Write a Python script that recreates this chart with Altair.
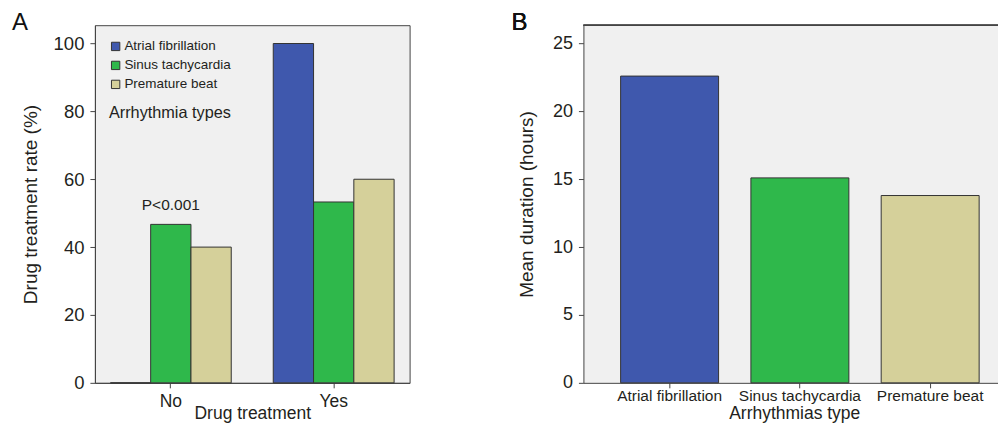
import altair as alt
import pandas as pd

# ---- data ----
treatment = ["No", "No", "No", "Yes", "Yes", "Yes"]
types_a = ["Atrial fibrillation", "Sinus tachycardia", "Premature beat",
           "Atrial fibrillation", "Sinus tachycardia", "Premature beat"]
rates = [0.0, 46.7, 40.0, 100.0, 53.3, 60.0]

types_b = ["Atrial fibrillation", "Sinus tachycardia", "Premature beat"]
durations = [22.6, 15.1, 13.8]

colors = ["#3f58ad", "#2fb84b", "#d5d09a"]

FONT = "Liberation Sans"
TXT = "#231f20"
AX = "#444444"
BG = "#f0f0f0"

dfa = pd.DataFrame({"treatment": treatment, "type": types_a, "rate": rates})
dfb = pd.DataFrame({"type": types_b, "duration": durations})
ann = pd.DataFrame({"treatment": ["No"], "rate": [51.0], "label": ["P<0.001"]})

WA, WB, H = 315, 422, 358

legend = alt.Legend(
    orient="none", legendX=14, legendY=14.5,
    title="Arrhythmia types", titleOrient="bottom", titleFontSize=16.3,
    titleFontWeight="normal", titleColor=TXT, titleFont=FONT, titlePadding=14,
    labelFontSize=13.5, labelFont=FONT, labelColor=TXT,
    symbolType="square", symbolSize=70, symbolStrokeColor="#333333",
    symbolStrokeWidth=1, symbolOpacity=1, rowPadding=4, labelOffset=2, padding=0,
)

bars_a = alt.Chart(dfa).mark_bar(stroke="#333333", strokeWidth=1).encode(
    x=alt.X("treatment:N", title="Drug treatment", sort=["No", "Yes"],
            scale=alt.Scale(paddingInner=0.258, paddingOuter=0.095),
            axis=alt.Axis(labelAngle=0, labelFontSize=17.5, titleFontSize=17.5,
                          labelFont=FONT, titleFont=FONT, labelColor=TXT, titleColor=TXT,
                          titleFontWeight="normal", domainColor=AX, tickColor=AX,
                          tickSize=5, labelPadding=5, titlePadding=-6)),
    xOffset=alt.XOffset("type:N", sort=types_b,
                        scale=alt.Scale(paddingInner=0, paddingOuter=0)),
    y=alt.Y("rate:Q", title="Drug treatment rate (%)",
            scale=alt.Scale(domain=[0, 105.4], nice=False),
            axis=alt.Axis(values=[0, 20, 40, 60, 80, 100], grid=False,
                          labelFontSize=18.5, titleFontSize=19,
                          labelFont=FONT, titleFont=FONT, labelColor=TXT, titleColor=TXT,
                          titleFontWeight="normal", domainColor=AX, tickColor=AX,
                          tickSize=5, labelPadding=6, titlePadding=13)),
    color=alt.Color("type:N", sort=types_b,
                    scale=alt.Scale(domain=types_b, range=colors), legend=legend),
)

ptext = alt.Chart(ann).mark_text(fontSize=15.5, font=FONT, color=TXT, baseline="alphabetic").encode(
    x=alt.X("treatment:N", sort=["No", "Yes"]),
    y="rate:Q",
    text="label:N",
)

label_a = alt.Chart(ann).mark_text(text="A", fontSize=24, font=FONT, color="#111111",
                                   align="left", baseline="alphabetic").encode(
    x=alt.value(-83), y=alt.value(5))

panel_a = alt.layer(bars_a, ptext, label_a).properties(
    width=WA, height=H, view=alt.ViewBackground(fill=BG, stroke=AX, strokeWidth=1))

bars_b = alt.Chart(dfb).mark_bar(stroke="#333333", strokeWidth=1).encode(
    x=alt.X("type:N", title="Arrhythmias type", sort=types_b,
            scale=alt.Scale(paddingInner=0.248, paddingOuter=0.242, align=0.59),
            axis=alt.Axis(labelAngle=0, labelFontSize=15.5, titleFontSize=17.5,
                          labelFont=FONT, titleFont=FONT, labelColor=TXT, titleColor=TXT,
                          titleFontWeight="normal", domainColor=AX, tickColor=AX,
                          tickSize=5, labelPadding=1, titlePadding=0)),
    y=alt.Y("duration:Q", title="Mean duration (hours)",
            scale=alt.Scale(domain=[0, 26.35], nice=False),
            axis=alt.Axis(values=[0, 5, 10, 15, 20, 25], grid=False,
                          labelFontSize=18, titleFontSize=19,
                          labelFont=FONT, titleFont=FONT, labelColor=TXT, titleColor=TXT,
                          titleFontWeight="normal", domainColor=AX, tickColor=AX,
                          tickSize=5, labelPadding=6, titlePadding=16)),
    color=alt.Color("type:N", scale=alt.Scale(domain=types_b, range=colors), legend=None),
)

top_rule = alt.Chart(dfb).mark_rule(color=AX, strokeWidth=1.5).encode(
    x=alt.value(0), x2=alt.value(WB), y=alt.value(0))

label_b = alt.Chart(dfb).mark_text(text="B", fontSize=24, font=FONT, color="#111111",
                                   align="left", baseline="alphabetic").encode(
    x=alt.value(-72), y=alt.value(5))

panel_b = alt.layer(bars_b, top_rule, label_b).properties(
    width=WB, height=H, view=alt.ViewBackground(fill=BG, strokeOpacity=0))

chart = alt.hconcat(panel_a, panel_b, spacing=101).resolve_scale(color="independent").properties(
    padding={"left": 3, "top": 2, "right": -8, "bottom": 0},
    background="white",
)

chart.save("out.html", embed_options={"renderer": "svg", "actions": False})
